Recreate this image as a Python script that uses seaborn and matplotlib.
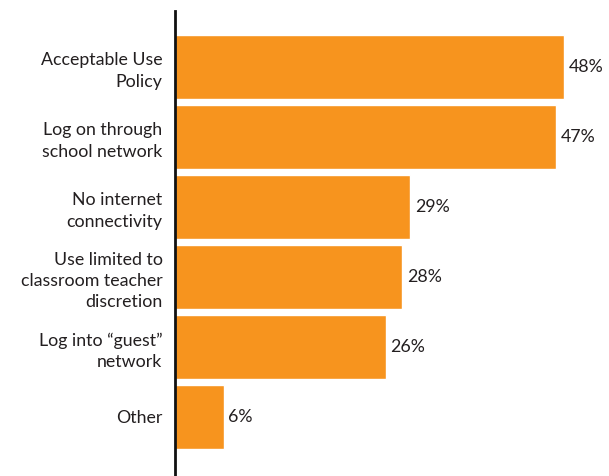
import matplotlib
matplotlib.use("Agg")
import matplotlib.pyplot as plt
import seaborn as sns
import pandas as pd

categories = [
    "Acceptable Use\nPolicy",
    "Log on through\nschool network",
    "No internet\nconnectivity",
    "Use limited to\nclassroom teacher\ndiscretion",
    "Log into \u201cguest\u201d\nnetwork",
    "Other",
]
values = [48, 47, 29, 28, 26, 6]
value_labels = ["48%", "47%", "29%", "28%", "26%", "6%"]

bar_color = "#F7941E"
text_color = "#231F20"

sns.set_theme(style="white")
plt.rcParams["font.family"] = ["Lato", "DejaVu Sans"]

df = pd.DataFrame({"category": categories, "value": values})

fig = plt.figure(figsize=(6.09, 4.76), dpi=100)
ax = fig.add_axes([175 / 609, 0.0, (600 - 175) / 609, 1 - 11 / 476])

sns.barplot(data=df, x="value", y="category", orient="h", color=bar_color,
            saturation=1, width=64 / 70, ax=ax)

ax.set_xlim(0, (600 - 175) / 8.1)
ax.set_ylim(5.843, -0.8)

for i, (v, lab) in enumerate(zip(values, value_labels)):
    ax.text(v + 0.6, i, lab, va="center", ha="left", fontsize=12.8, color=text_color)

for side in ["top", "right", "bottom"]:
    ax.spines[side].set_visible(False)
ax.spines["left"].set_color("#111111")
ax.spines["left"].set_linewidth(2)
ax.set_xticks([])
ax.set_xlabel("")
ax.set_ylabel("")
ax.tick_params(axis="y", length=0, pad=9, labelsize=12.8, labelcolor=text_color)
for t in ax.get_yticklabels():
    t.set_horizontalalignment("right")
    t.set_multialignment("right")
    t.set_linespacing(1.4)

fig.savefig("out.png", dpi=100)
